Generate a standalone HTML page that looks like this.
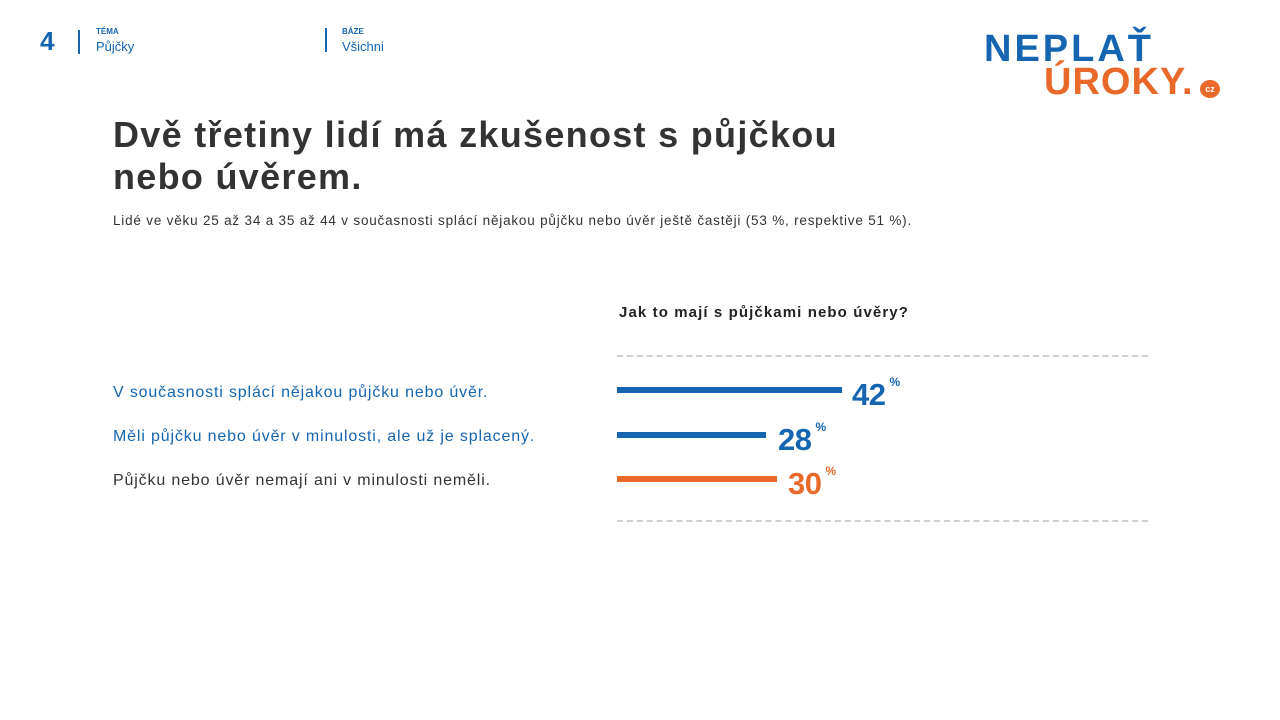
<!DOCTYPE html>
<html><head><meta charset="utf-8"><style>
body{margin:0;width:1280px;height:720px;background:#fff;font-family:"Liberation Sans","DejaVu Sans",sans-serif;position:relative;overflow:hidden}
.a{position:absolute;white-space:nowrap}
.blue{color:#1565b0}.or{color:#e8692a}
.bar{position:absolute;left:617px;height:6px}
.dash{position:absolute;left:617px;width:531px;height:0;border-top:2px dashed #cfcfcf}
.num{position:absolute;font-weight:bold;font-size:31px;letter-spacing:-0.5px}
.pc{font-size:12px;vertical-align:top;position:relative;top:-2px;margin-left:4px;letter-spacing:0}
.lbl{font-size:16px;letter-spacing:0.85px}
</style></head><body>
<div class="a blue" style="left:40px;top:26px;font-size:26px;font-weight:bold">4</div>
<div class="a" style="left:78px;top:30px;width:2px;height:24px;background:#1565b0"></div>
<div class="a blue" style="left:96px;top:27px;font-size:8px;font-weight:bold">TÉMA</div>
<div class="a blue" style="left:96px;top:39px;font-size:13px">Půjčky</div>
<div class="a" style="left:325px;top:28px;width:2px;height:24px;background:#1565b0"></div>
<div class="a blue" style="left:342px;top:27px;font-size:8px;font-weight:bold">BÁZE</div>
<div class="a blue" style="left:342px;top:39px;font-size:13px">Všichni</div>
<div class="a blue" style="left:984px;top:28px;font-size:38px;font-weight:900;letter-spacing:3px">NEPLAŤ</div>
<div class="a or" style="left:1044px;top:61px;font-size:38px;font-weight:900;letter-spacing:1px">ÚROKY.</div>
<div class="a" style="left:1200px;top:80px;width:20px;height:18px;border-radius:50%;background:#e8692a;color:#fff;font-size:9px;font-weight:bold;text-align:center;line-height:18px">cz</div>
<div class="a" style="left:113px;top:114px;font-size:36px;font-weight:bold;color:#333;line-height:42px;letter-spacing:1.3px">Dvě třetiny lidí má zkušenost s půjčkou<br>nebo úvěrem.</div>
<div class="a" style="left:113px;top:213px;font-size:13.5px;color:#333;letter-spacing:0.8px">Lidé ve věku 25 až 34 a 35 až 44 v současnosti splácí nějakou půjčku nebo úvěr ještě častěji (53 %, respektive 51 %).</div>
<div class="a" style="left:619px;top:304px;font-size:15px;font-weight:bold;color:#222;letter-spacing:1.1px">Jak to mají s půjčkami nebo úvěry?</div>
<div class="dash" style="top:355px"></div>
<div class="dash" style="top:520px"></div>
<div class="a blue lbl" style="left:113px;top:384px">V současnosti splácí nějakou půjčku nebo úvěr.</div>
<div class="a blue lbl" style="left:113px;top:428px">Měli půjčku nebo úvěr v minulosti, ale už je splacený.</div>
<div class="a lbl" style="left:113px;top:472px;color:#333">Půjčku nebo úvěr nemají ani v minulosti neměli.</div>
<div class="bar" style="top:387px;width:225px;background:#1565b0"></div>
<div class="bar" style="top:432px;width:149px;background:#1565b0"></div>
<div class="bar" style="top:476px;width:160px;background:#e8692a"></div>
<div class="num blue" style="left:852px;top:377px">42<span class="pc">%</span></div>
<div class="num blue" style="left:778px;top:422px">28<span class="pc">%</span></div>
<div class="num or" style="left:788px;top:466px">30<span class="pc">%</span></div>
</body></html>
